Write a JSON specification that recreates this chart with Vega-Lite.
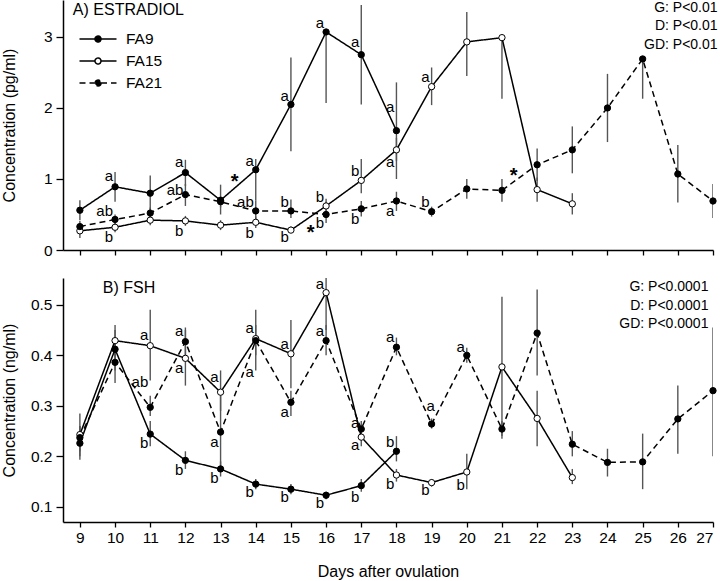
{
  "$schema": "https://vega.github.io/schema/vega-lite/v6.json",
  "padding": {"left": 0, "top": 0, "right": 0, "bottom": 0},
  "spacing": 17,
  "config": {
    "font": "Liberation Sans",
    "view": {"stroke": null},
    "axis": {
      "domainColor": "black", "domainWidth": 1.5, "tickColor": "black", "tickWidth": 1.3,
      "labelFont": "Liberation Sans", "labelFontSize": 15.5, "labelColor": "black",
      "titleFont": "Liberation Sans", "titleFontSize": 16, "titleFontWeight": "normal", "titleColor": "black",
      "grid": false
    },
    "text": {"font": "Liberation Sans", "color": "black"}
  },
  "resolve": {
    "scale": {"x": "independent", "y": "independent", "fill": "independent", "strokeDash": "independent"},
    "legend": {"fill": "independent", "strokeDash": "independent"}
  },
  "datasets": {
    "estradiol": [
      {"series": "FA9", "day": 9, "value": 0.56, "lo": 0.42, "hi": 0.70},
      {"series": "FA9", "day": 10, "value": 0.89, "lo": 0.68, "hi": 1.10},
      {"series": "FA9", "day": 11, "value": 0.80, "lo": 0.47, "hi": 1.05},
      {"series": "FA9", "day": 12, "value": 1.09, "lo": 0.90, "hi": 1.27},
      {"series": "FA9", "day": 13, "value": 0.70, "lo": 0.50, "hi": 0.92},
      {"series": "FA9", "day": 14, "value": 1.13, "lo": 0.70, "hi": 1.28},
      {"series": "FA9", "day": 15, "value": 2.05, "lo": 1.39, "hi": 2.71},
      {"series": "FA9", "day": 16, "value": 3.07, "lo": 2.07, "hi": 3.07},
      {"series": "FA9", "day": 17, "value": 2.75, "lo": 2.05, "hi": 3.45},
      {"series": "FA9", "day": 18, "value": 1.68, "lo": 1.00, "hi": 2.36},
      {"series": "FA15", "day": 9, "value": 0.27, "lo": 0.17, "hi": 0.36},
      {"series": "FA15", "day": 10, "value": 0.32, "lo": 0.25, "hi": 0.40},
      {"series": "FA15", "day": 11, "value": 0.42, "lo": 0.35, "hi": 0.50},
      {"series": "FA15", "day": 12, "value": 0.41, "lo": 0.34, "hi": 0.48},
      {"series": "FA15", "day": 13, "value": 0.35, "lo": 0.28, "hi": 0.42},
      {"series": "FA15", "day": 14, "value": 0.39, "lo": 0.31, "hi": 0.47},
      {"series": "FA15", "day": 15, "value": 0.28, "lo": 0.24, "hi": 0.33},
      {"series": "FA15", "day": 16, "value": 0.62, "lo": 0.52, "hi": 0.72},
      {"series": "FA15", "day": 17, "value": 0.98, "lo": 0.80, "hi": 1.28},
      {"series": "FA15", "day": 18, "value": 1.41, "lo": 1.25, "hi": 1.58},
      {"series": "FA15", "day": 19, "value": 2.30, "lo": 2.04, "hi": 2.57},
      {"series": "FA15", "day": 20, "value": 2.93, "lo": 2.45, "hi": 3.35},
      {"series": "FA15", "day": 21, "value": 2.99, "lo": 2.13, "hi": 2.99},
      {"series": "FA15", "day": 22, "value": 0.85, "lo": 0.68, "hi": 1.02},
      {"series": "FA15", "day": 23, "value": 0.65, "lo": 0.50, "hi": 0.80},
      {"series": "FA21", "day": 9, "value": 0.33, "lo": 0.25, "hi": 0.41},
      {"series": "FA21", "day": 10, "value": 0.43, "lo": 0.36, "hi": 0.50},
      {"series": "FA21", "day": 11, "value": 0.52, "lo": 0.44, "hi": 0.60},
      {"series": "FA21", "day": 12, "value": 0.78, "lo": 0.62, "hi": 0.93},
      {"series": "FA21", "day": 13, "value": 0.68, "lo": 0.60, "hi": 0.76},
      {"series": "FA21", "day": 14, "value": 0.55, "lo": 0.42, "hi": 0.70},
      {"series": "FA21", "day": 15, "value": 0.55, "lo": 0.45, "hi": 0.71},
      {"series": "FA21", "day": 16, "value": 0.50, "lo": 0.38, "hi": 0.68},
      {"series": "FA21", "day": 17, "value": 0.58, "lo": 0.47, "hi": 0.69},
      {"series": "FA21", "day": 18, "value": 0.69, "lo": 0.55, "hi": 0.82},
      {"series": "FA21", "day": 19, "value": 0.54, "lo": 0.47, "hi": 0.61},
      {"series": "FA21", "day": 20, "value": 0.86, "lo": 0.72, "hi": 1.00},
      {"series": "FA21", "day": 21, "value": 0.84, "lo": 0.68, "hi": 1.00},
      {"series": "FA21", "day": 22, "value": 1.20, "lo": 0.97, "hi": 1.43},
      {"series": "FA21", "day": 23, "value": 1.41, "lo": 1.08, "hi": 1.74},
      {"series": "FA21", "day": 24, "value": 2.00, "lo": 1.52, "hi": 2.48},
      {"series": "FA21", "day": 25, "value": 2.69, "lo": 2.13, "hi": 2.69},
      {"series": "FA21", "day": 26, "value": 1.07, "lo": 0.67, "hi": 1.48},
      {"series": "FA21", "day": 27, "value": 0.69, "lo": 0.45, "hi": 0.93}
    ],
    "fsh": [
      {"series": "FA9", "day": 9, "value": 0.226, "lo": 0.193, "hi": 0.26},
      {"series": "FA9", "day": 10, "value": 0.412, "lo": 0.37, "hi": 0.45},
      {"series": "FA9", "day": 11, "value": 0.244, "lo": 0.22, "hi": 0.27},
      {"series": "FA9", "day": 12, "value": 0.192, "lo": 0.175, "hi": 0.21},
      {"series": "FA9", "day": 13, "value": 0.175, "lo": 0.16, "hi": 0.19},
      {"series": "FA9", "day": 14, "value": 0.145, "lo": 0.135, "hi": 0.155},
      {"series": "FA9", "day": 15, "value": 0.135, "lo": 0.125, "hi": 0.145},
      {"series": "FA9", "day": 16, "value": 0.123, "lo": 0.115, "hi": 0.13},
      {"series": "FA9", "day": 17, "value": 0.142, "lo": 0.13, "hi": 0.155},
      {"series": "FA9", "day": 18, "value": 0.21, "lo": 0.19, "hi": 0.24},
      {"series": "FA15", "day": 9, "value": 0.243, "lo": 0.20, "hi": 0.285},
      {"series": "FA15", "day": 10, "value": 0.429, "lo": 0.40, "hi": 0.46},
      {"series": "FA15", "day": 11, "value": 0.419, "lo": 0.35, "hi": 0.49},
      {"series": "FA15", "day": 12, "value": 0.394, "lo": 0.34, "hi": 0.45},
      {"series": "FA15", "day": 13, "value": 0.327, "lo": 0.29, "hi": 0.37},
      {"series": "FA15", "day": 14, "value": 0.433, "lo": 0.37, "hi": 0.49},
      {"series": "FA15", "day": 15, "value": 0.403, "lo": 0.335, "hi": 0.47},
      {"series": "FA15", "day": 16, "value": 0.524, "lo": 0.45, "hi": 0.60},
      {"series": "FA15", "day": 17, "value": 0.238, "lo": 0.22, "hi": 0.255},
      {"series": "FA15", "day": 18, "value": 0.163, "lo": 0.15, "hi": 0.175},
      {"series": "FA15", "day": 19, "value": 0.148, "lo": 0.14, "hi": 0.155},
      {"series": "FA15", "day": 20, "value": 0.169, "lo": 0.135, "hi": 0.205},
      {"series": "FA15", "day": 21, "value": 0.377, "lo": 0.24, "hi": 0.516},
      {"series": "FA15", "day": 22, "value": 0.275, "lo": 0.22, "hi": 0.33},
      {"series": "FA15", "day": 23, "value": 0.158, "lo": 0.145, "hi": 0.175},
      {"series": "FA21", "day": 9, "value": 0.237, "lo": 0.21, "hi": 0.26},
      {"series": "FA21", "day": 10, "value": 0.386, "lo": 0.345, "hi": 0.43},
      {"series": "FA21", "day": 11, "value": 0.297, "lo": 0.28, "hi": 0.32},
      {"series": "FA21", "day": 12, "value": 0.427, "lo": 0.40, "hi": 0.455},
      {"series": "FA21", "day": 13, "value": 0.248, "lo": 0.17, "hi": 0.33},
      {"series": "FA21", "day": 14, "value": 0.429, "lo": 0.40, "hi": 0.46},
      {"series": "FA21", "day": 15, "value": 0.307, "lo": 0.28, "hi": 0.33},
      {"series": "FA21", "day": 16, "value": 0.429, "lo": 0.40, "hi": 0.46},
      {"series": "FA21", "day": 17, "value": 0.254, "lo": 0.24, "hi": 0.27},
      {"series": "FA21", "day": 18, "value": 0.416, "lo": 0.40, "hi": 0.435},
      {"series": "FA21", "day": 19, "value": 0.264, "lo": 0.255, "hi": 0.275},
      {"series": "FA21", "day": 20, "value": 0.400, "lo": 0.385, "hi": 0.415},
      {"series": "FA21", "day": 21, "value": 0.254, "lo": 0.235, "hi": 0.27},
      {"series": "FA21", "day": 22, "value": 0.444, "lo": 0.36, "hi": 0.53},
      {"series": "FA21", "day": 23, "value": 0.224, "lo": 0.20, "hi": 0.25},
      {"series": "FA21", "day": 24, "value": 0.188, "lo": 0.16, "hi": 0.215},
      {"series": "FA21", "day": 25, "value": 0.189, "lo": 0.135, "hi": 0.245},
      {"series": "FA21", "day": 26, "value": 0.274, "lo": 0.205, "hi": 0.34},
      {"series": "FA21", "day": 27, "value": 0.330, "lo": 0.20, "hi": 0.455}
    ],
    "lettersE": [
      {"day": 10, "value": 1.04, "label": "a"}, {"day": 10, "value": 0.55, "label": "ab"}, {"day": 10, "value": 0.18, "label": "b"},
      {"day": 12, "value": 1.24, "label": "a"}, {"day": 12, "value": 0.84, "label": "ab"}, {"day": 12, "value": 0.27, "label": "b"},
      {"day": 14, "value": 1.25, "label": "a"}, {"day": 14, "value": 0.68, "label": "ab"}, {"day": 14, "value": 0.24, "label": "b"},
      {"day": 15, "value": 2.17, "label": "a"}, {"day": 15, "value": 0.68, "label": "b"}, {"day": 15, "value": 0.18, "label": "b"},
      {"day": 16, "value": 3.20, "label": "a"}, {"day": 16, "value": 0.75, "label": "b"}, {"day": 16, "value": 0.38, "label": "b"},
      {"day": 17, "value": 2.93, "label": "a"}, {"day": 17, "value": 1.11, "label": "b"}, {"day": 17, "value": 0.44, "label": "b"},
      {"day": 18, "value": 2.02, "label": "a"}, {"day": 18, "value": 1.24, "label": "a"}, {"day": 18, "value": 0.55, "label": "a"},
      {"day": 19, "value": 2.43, "label": "a"}, {"day": 19, "value": 0.67, "label": "b"}
    ],
    "starsE": [
      {"day": 13.40, "value": 1.04, "label": "*"},
      {"day": 15.56, "value": 0.33, "label": "*"},
      {"day": 21.33, "value": 1.12, "label": "*"}
    ],
    "lettersF": [
      {"day": 11, "value": 0.44, "label": "a"}, {"day": 11, "value": 0.348, "label": "ab"}, {"day": 11, "value": 0.227, "label": "b"},
      {"day": 12, "value": 0.449, "label": "a"}, {"day": 12, "value": 0.375, "label": "a"}, {"day": 12, "value": 0.173, "label": "b"},
      {"day": 13, "value": 0.357, "label": "a"}, {"day": 13, "value": 0.229, "label": "a"}, {"day": 13, "value": 0.157, "label": "b"},
      {"day": 14, "value": 0.454, "label": "a"}, {"day": 14, "value": 0.367, "label": "a"}, {"day": 14, "value": 0.13, "label": "b"},
      {"day": 15, "value": 0.423, "label": "a"}, {"day": 15, "value": 0.288, "label": "a"}, {"day": 15, "value": 0.12, "label": "b"},
      {"day": 16, "value": 0.542, "label": "a"}, {"day": 16, "value": 0.449, "label": "a"}, {"day": 16, "value": 0.108, "label": "b"},
      {"day": 17, "value": 0.266, "label": "a"}, {"day": 17, "value": 0.223, "label": "a"}, {"day": 17, "value": 0.12, "label": "b"},
      {"day": 18, "value": 0.437, "label": "a"}, {"day": 18, "value": 0.229, "label": "b"}, {"day": 18, "value": 0.146, "label": "b"},
      {"day": 19.15, "value": 0.30, "label": "a"}, {"day": 19, "value": 0.134, "label": "b"},
      {"day": 20, "value": 0.417, "label": "a"}, {"day": 20, "value": 0.144, "label": "b"}
    ],
    "notesE": [{"label": "A) ESTRADIOL"}],
    "statsE": [{"label": ["G: P<0.01", "D: P<0.01", "GD: P<0.01"]}],
    "notesF": [{"label": "B) FSH"}],
    "statsF": [{"label": ["G: P<0.0001", "D: P<0.0001", "GD: P<0.0001"]}]
  },
  "vconcat": [
    {
      "width": 650,
      "height": 250,
      "layer": [
        {
          "data": {"name": "estradiol"},
          "mark": {"type": "rule", "color": "#555555", "strokeWidth": 1.4, "clip": true},
          "encoding": {
            "x": {"field": "day", "type": "quantitative", "scale": {"domain": [8.52, 27], "nice": false, "zero": false},
              "axis": {"values": [9,10,11,12,13,14,15,16,17,18,19,20,21,22,23,24,25,26,27], "labels": false, "title": null, "tickSize": 5}},
            "y": {"field": "lo", "type": "quantitative", "scale": {"domain": [0, 3.52], "nice": false, "zero": false},
              "axis": {"values": [0,1,2,3], "format": "d", "title": "Concentration (pg/ml)", "titleX": -46, "tickSize": 7, "labelPadding": 4}},
            "y2": {"field": "hi"},
            "detail": {"field": "series"}
          }
        },
        {
          "data": {"name": "estradiol"},
          "mark": {"type": "line", "color": "black", "strokeWidth": 1.5},
          "encoding": {
            "x": {"field": "day", "type": "quantitative", "scale": {"domain": [8.52, 27], "nice": false, "zero": false},
              "axis": {"values": [9,10,11,12,13,14,15,16,17,18,19,20,21,22,23,24,25,26,27], "labels": false, "title": null, "tickSize": 5}},
            "y": {"field": "value", "type": "quantitative", "scale": {"domain": [0, 3.52], "nice": false, "zero": false},
              "axis": {"values": [0,1,2,3], "format": "d", "title": "Concentration (pg/ml)", "titleX": -46, "tickSize": 7, "labelPadding": 4}},
            "detail": {"field": "series"},
            "strokeDash": {"field": "series", "type": "nominal",
              "scale": {"domain": ["FA9", "FA15", "FA21"], "range": [[1, 0], [1, 0], [6, 4]]},
              "legend": {
                "orient": "none", "legendX": 27.25, "legendY": 31.25, "title": null, "padding": 0,
                "symbolType": "M-3.7,0H-0.6M0.6,0H3.7M0.6,0A0.6,0.6 0 1 1 -0.6,0A0.6,0.6 0 1 1 0.6,0Z",
                "symbolSize": 100, "symbolStrokeWidth": 1.5, "symbolStrokeColor": "black",
                "labelFontSize": 15.5, "labelFont": "Liberation Sans", "labelColor": "black",
                "labelOffset": 20.25, "rowPadding": 5
              }}
          }
        },
        {
          "data": {"name": "estradiol"},
          "mark": {"type": "point", "filled": true, "size": 40, "stroke": "black", "strokeWidth": 1, "opacity": 1},
          "encoding": {
            "x": {"field": "day", "type": "quantitative", "scale": {"domain": [8.52, 27], "nice": false, "zero": false},
              "axis": {"values": [9,10,11,12,13,14,15,16,17,18,19,20,21,22,23,24,25,26,27], "labels": false, "title": null, "tickSize": 5}},
            "y": {"field": "value", "type": "quantitative", "scale": {"domain": [0, 3.52], "nice": false, "zero": false},
              "axis": {"values": [0,1,2,3], "format": "d", "title": "Concentration (pg/ml)", "titleX": -46, "tickSize": 7, "labelPadding": 4}},
            "fill": {"field": "series", "type": "nominal",
              "scale": {"domain": ["FA9", "FA15", "FA21"], "range": ["black", "white", "black"]},
              "legend": {
                "orient": "none", "legendX": 27.25, "legendY": 31.25, "title": null, "padding": 0,
                "symbolType": "M-3.7,0H-0.6M0.6,0H3.7M0.6,0A0.6,0.6 0 1 1 -0.6,0A0.6,0.6 0 1 1 0.6,0Z",
                "symbolSize": 100, "symbolStrokeWidth": 1.5, "symbolStrokeColor": "black",
                "labelFontSize": 15.5, "labelFont": "Liberation Sans", "labelColor": "black",
                "labelOffset": 20.25, "rowPadding": 5
              }}
          }
        },
        {
          "data": {"name": "lettersE"},
          "mark": {"type": "text", "align": "right", "baseline": "middle", "dx": -2, "fontSize": 15},
          "encoding": {
            "x": {"field": "day", "type": "quantitative", "scale": {"domain": [8.52, 27], "nice": false, "zero": false},
              "axis": {"values": [9,10,11,12,13,14,15,16,17,18,19,20,21,22,23,24,25,26,27], "labels": false, "title": null, "tickSize": 5}},
            "y": {"field": "value", "type": "quantitative", "scale": {"domain": [0, 3.52], "nice": false, "zero": false},
              "axis": {"values": [0,1,2,3], "format": "d", "title": "Concentration (pg/ml)", "titleX": -46, "tickSize": 7, "labelPadding": 4}},
            "text": {"field": "label"}
          }
        },
        {
          "data": {"name": "starsE"},
          "mark": {"type": "text", "align": "center", "baseline": "middle", "dy": 6, "fontSize": 20, "fontWeight": "bold"},
          "encoding": {
            "x": {"field": "day", "type": "quantitative", "scale": {"domain": [8.52, 27], "nice": false, "zero": false},
              "axis": {"values": [9,10,11,12,13,14,15,16,17,18,19,20,21,22,23,24,25,26,27], "labels": false, "title": null, "tickSize": 5}},
            "y": {"field": "value", "type": "quantitative", "scale": {"domain": [0, 3.52], "nice": false, "zero": false},
              "axis": {"values": [0,1,2,3], "format": "d", "title": "Concentration (pg/ml)", "titleX": -46, "tickSize": 7, "labelPadding": 4}},
            "text": {"field": "label"}
          }
        },
        {
          "data": {"name": "notesE"},
          "mark": {"type": "text", "align": "left", "baseline": "alphabetic", "fontSize": 16},
          "encoding": {
            "x": {"datum": 8.8, "type": "quantitative", "scale": {"domain": [8.52, 27], "nice": false, "zero": false},
              "axis": {"values": [9,10,11,12,13,14,15,16,17,18,19,20,21,22,23,24,25,26,27], "labels": false, "title": null, "tickSize": 5}},
            "y": {"datum": 3.31, "type": "quantitative", "scale": {"domain": [0, 3.52], "nice": false, "zero": false},
              "axis": {"values": [0,1,2,3], "format": "d", "title": "Concentration (pg/ml)", "titleX": -46, "tickSize": 7, "labelPadding": 4}},
            "text": {"field": "label"}
          }
        },
        {
          "data": {"name": "statsE"},
          "mark": {"type": "text", "align": "right", "baseline": "top", "fontSize": 14, "lineHeight": 18.5},
          "encoding": {
            "x": {"datum": 27.13, "type": "quantitative", "scale": {"domain": [8.52, 27], "nice": false, "zero": false},
              "axis": {"values": [9,10,11,12,13,14,15,16,17,18,19,20,21,22,23,24,25,26,27], "labels": false, "title": null, "tickSize": 5}},
            "y": {"datum": 3.51, "type": "quantitative", "scale": {"domain": [0, 3.52], "nice": false, "zero": false},
              "axis": {"values": [0,1,2,3], "format": "d", "title": "Concentration (pg/ml)", "titleX": -46, "tickSize": 7, "labelPadding": 4}},
            "text": {"field": "label"}
          }
        }
      ]
    },
    {
      "width": 650,
      "height": 244,
      "layer": [
        {
          "data": {"name": "fsh"},
          "mark": {"type": "rule", "color": "#555555", "strokeWidth": 1.4, "clip": true},
          "encoding": {
            "x": {"field": "day", "type": "quantitative", "scale": {"domain": [8.52, 27], "nice": false, "zero": false},
              "axis": {"values": [9,10,11,12,13,14,15,16,17,18,19,20,21,22,23,24,25,26,27], "format": "d", "title": "Days after ovulation", "tickSize": 5, "labelPadding": 3, "titlePadding": 18}},
            "y": {"field": "lo", "type": "quantitative", "scale": {"domain": [0.07, 0.553], "nice": false, "zero": false},
              "axis": {"values": [0.1,0.2,0.3,0.4,0.5], "format": ".1f", "title": "Concentration (ng/ml)", "titleX": -46, "tickSize": 7, "labelPadding": 4}},
            "y2": {"field": "hi"},
            "detail": {"field": "series"}
          }
        },
        {
          "data": {"name": "fsh"},
          "mark": {"type": "line", "color": "black", "strokeWidth": 1.5},
          "encoding": {
            "x": {"field": "day", "type": "quantitative", "scale": {"domain": [8.52, 27], "nice": false, "zero": false},
              "axis": {"values": [9,10,11,12,13,14,15,16,17,18,19,20,21,22,23,24,25,26,27], "format": "d", "title": "Days after ovulation", "tickSize": 5, "labelPadding": 3, "titlePadding": 18}},
            "y": {"field": "value", "type": "quantitative", "scale": {"domain": [0.07, 0.553], "nice": false, "zero": false},
              "axis": {"values": [0.1,0.2,0.3,0.4,0.5], "format": ".1f", "title": "Concentration (ng/ml)", "titleX": -46, "tickSize": 7, "labelPadding": 4}},
            "detail": {"field": "series"},
            "strokeDash": {"field": "series", "type": "nominal",
              "scale": {"domain": ["FA9", "FA15", "FA21"], "range": [[1, 0], [1, 0], [6, 4]]}, "legend": null}
          }
        },
        {
          "data": {"name": "fsh"},
          "mark": {"type": "point", "filled": true, "size": 40, "stroke": "black", "strokeWidth": 1, "opacity": 1},
          "encoding": {
            "x": {"field": "day", "type": "quantitative", "scale": {"domain": [8.52, 27], "nice": false, "zero": false},
              "axis": {"values": [9,10,11,12,13,14,15,16,17,18,19,20,21,22,23,24,25,26,27], "format": "d", "title": "Days after ovulation", "tickSize": 5, "labelPadding": 3, "titlePadding": 18}},
            "y": {"field": "value", "type": "quantitative", "scale": {"domain": [0.07, 0.553], "nice": false, "zero": false},
              "axis": {"values": [0.1,0.2,0.3,0.4,0.5], "format": ".1f", "title": "Concentration (ng/ml)", "titleX": -46, "tickSize": 7, "labelPadding": 4}},
            "fill": {"field": "series", "type": "nominal",
              "scale": {"domain": ["FA9", "FA15", "FA21"], "range": ["black", "white", "black"]}, "legend": null}
          }
        },
        {
          "data": {"name": "lettersF"},
          "mark": {"type": "text", "align": "right", "baseline": "middle", "dx": -2, "fontSize": 15},
          "encoding": {
            "x": {"field": "day", "type": "quantitative", "scale": {"domain": [8.52, 27], "nice": false, "zero": false},
              "axis": {"values": [9,10,11,12,13,14,15,16,17,18,19,20,21,22,23,24,25,26,27], "format": "d", "title": "Days after ovulation", "tickSize": 5, "labelPadding": 3, "titlePadding": 18}},
            "y": {"field": "value", "type": "quantitative", "scale": {"domain": [0.07, 0.553], "nice": false, "zero": false},
              "axis": {"values": [0.1,0.2,0.3,0.4,0.5], "format": ".1f", "title": "Concentration (ng/ml)", "titleX": -46, "tickSize": 7, "labelPadding": 4}},
            "text": {"field": "label"}
          }
        },
        {
          "data": {"name": "notesF"},
          "mark": {"type": "text", "align": "left", "baseline": "alphabetic", "fontSize": 16},
          "encoding": {
            "x": {"datum": 9.653, "type": "quantitative", "scale": {"domain": [8.52, 27], "nice": false, "zero": false},
              "axis": {"values": [9,10,11,12,13,14,15,16,17,18,19,20,21,22,23,24,25,26,27], "format": "d", "title": "Days after ovulation", "tickSize": 5, "labelPadding": 3, "titlePadding": 18}},
            "y": {"datum": 0.524, "type": "quantitative", "scale": {"domain": [0.07, 0.553], "nice": false, "zero": false},
              "axis": {"values": [0.1,0.2,0.3,0.4,0.5], "format": ".1f", "title": "Concentration (ng/ml)", "titleX": -46, "tickSize": 7, "labelPadding": 4}},
            "text": {"field": "label"}
          }
        },
        {
          "data": {"name": "statsF"},
          "mark": {"type": "text", "align": "right", "baseline": "top", "fontSize": 14, "lineHeight": 18.5},
          "encoding": {
            "x": {"datum": 26.87, "type": "quantitative", "scale": {"domain": [8.52, 27], "nice": false, "zero": false},
              "axis": {"values": [9,10,11,12,13,14,15,16,17,18,19,20,21,22,23,24,25,26,27], "format": "d", "title": "Days after ovulation", "tickSize": 5, "labelPadding": 3, "titlePadding": 18}},
            "y": {"datum": 0.549, "type": "quantitative", "scale": {"domain": [0.07, 0.553], "nice": false, "zero": false},
              "axis": {"values": [0.1,0.2,0.3,0.4,0.5], "format": ".1f", "title": "Concentration (ng/ml)", "titleX": -46, "tickSize": 7, "labelPadding": 4}},
            "text": {"field": "label"}
          }
        }
      ]
    }
  ]
}
